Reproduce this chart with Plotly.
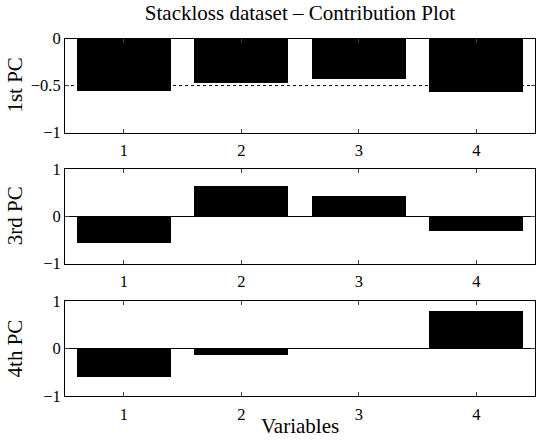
import plotly.graph_objects as go

variables = [1, 2, 3, 4]
pc1 = [-0.55, -0.47, -0.43, -0.56]
pc3 = [-0.56, 0.65, 0.44, -0.31]
pc4 = [-0.61, -0.13, -0.01, 0.79]
panel_labels = ["1st PC", "3rd PC", "4th PC"]
title = "Stackloss dataset – Contribution Plot"
xlabel = "Variables"

W, H = 538, 446
xl, xr = 65, 535
panels = [(31, 129), (167, 266), (305, 404)]
ranges = [[-1, 0], [-1, 1], [-1, 1]]
tickvals = [[-1, -0.5, 0], [-1, 0, 1], [-1, 0, 1]]
series = [pc1, pc3, pc4]

FONT = "Liberation Serif"
TICKFONT = dict(family=FONT, size=16.5, color="black")
LABELFONT = dict(family=FONT, size=21, color="black")
fig = go.Figure()
for i, (vals, (t, b)) in enumerate(zip(series, panels)):
    n = "" if i == 0 else str(i + 1)
    fig.add_trace(go.Bar(x=variables, y=vals, width=0.8, marker=dict(color="black", line=dict(width=0)),
                         xaxis="x" + n, yaxis="y" + n, showlegend=False))
    fig.update_layout(**{
        "xaxis" + n: dict(domain=[xl / W, xr / W], range=[0.5, 4.5], tickvals=variables,
                          ticks="inside", ticklen=4, showline=True, linecolor="black", linewidth=1,
                          mirror="ticks", showgrid=False, zeroline=False, ticklabelstandoff=3,
                          anchor="y" + n, tickfont=TICKFONT),
        "yaxis" + n: dict(domain=[1 - b / H, 1 - t / H], range=ranges[i], tickvals=tickvals[i],
                          ticks="inside", ticklen=4, showline=True, linecolor="black", linewidth=1,
                          mirror="ticks", showgrid=False, zeroline=(i > 0), zerolinecolor="black",
                          zerolinewidth=1, anchor="x" + n, tickfont=TICKFONT),
    })
    fig.add_annotation(text=panel_labels[i], xref="paper", yref="paper", x=15 / W, y=1 - (t + b) / 2 / H,
                       textangle=-90, showarrow=False, font=LABELFONT, xanchor="center", yanchor="middle")

# dotted reference line at -0.5 in the first panel
fig.add_shape(type="line", xref="x", yref="y", x0=0.5, x1=4.5, y0=-0.5, y1=-0.5,
              line=dict(color="black", width=1, dash="dot"), layer="below")

fig.add_annotation(text=xlabel, xref="paper", yref="paper", x=(xl + xr) / 2 / W, y=1 - 436 / H,
                   showarrow=False, font=LABELFONT, xanchor="center", yanchor="middle")

fig.update_layout(
    width=W, height=H, margin=dict(l=0, r=0, t=0, b=0),
    plot_bgcolor="white", paper_bgcolor="white", bargap=0,
    font=dict(family=FONT, color="black"),
    title=dict(text=title, x=(xl + xr) / 2 / W, xanchor="center", y=1 - 13 / H, yanchor="middle",
               font=LABELFONT),
)
fig.write_html("out.html")
